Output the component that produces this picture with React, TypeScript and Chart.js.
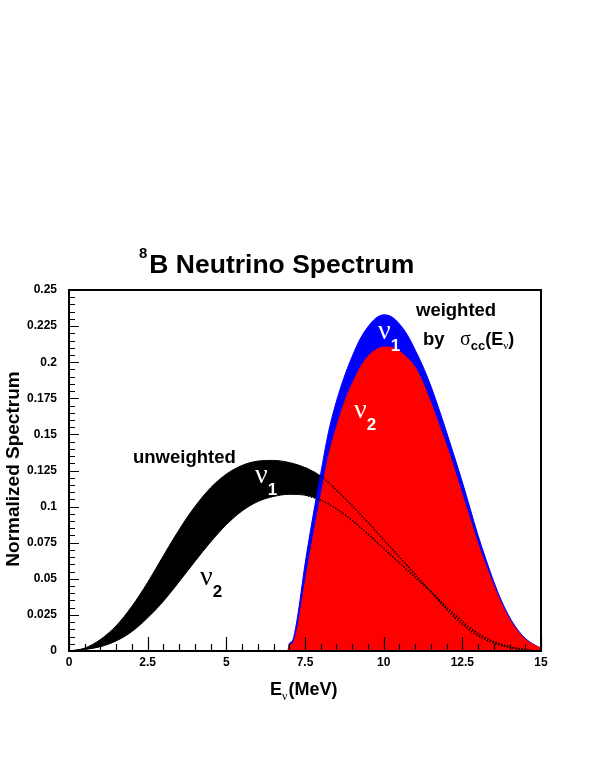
import React, { useEffect, useRef } from "react";
import { Chart, registerables } from "chart.js";

Chart.register(...registerables);

// ---------- data ----------
const energyUnweighted = [0, 0.5, 1, 1.5, 2, 2.5, 3, 3.5, 4, 4.5, 5, 5.5, 6, 6.5, 7, 7.5, 8, 8.5, 9, 9.5, 10, 10.5, 11, 11.5, 12, 12.5, 13, 13.5, 14, 14.5, 14.8];
const nu1Unweighted = [0, 0.002, 0.008, 0.0175, 0.031, 0.0475, 0.066, 0.084, 0.1, 0.113, 0.1225, 0.1285, 0.1315, 0.132, 0.1305, 0.127, 0.121, 0.1115, 0.1005, 0.089, 0.077, 0.065, 0.053, 0.041, 0.029, 0.0185, 0.0105, 0.0055, 0.0025, 0.0008, 0];
const nu2Unweighted = [0, 0.001, 0.003, 0.007, 0.0135, 0.023, 0.0345, 0.048, 0.062, 0.0755, 0.0875, 0.097, 0.1035, 0.107, 0.1085, 0.108, 0.1045, 0.0985, 0.0905, 0.081, 0.071, 0.061, 0.051, 0.041, 0.0305, 0.0205, 0.012, 0.0065, 0.003, 0.001, 0];

const energyWeighted = [6.96, 7.0, 7.1, 7.25, 7.5, 7.75, 8.0, 8.25, 8.5, 8.75, 9.0, 9.25, 9.5, 9.75, 10.0, 10.25, 10.5, 10.75, 11.0, 11.25, 11.5, 11.75, 12.0, 12.25, 12.5, 12.75, 13.0, 13.25, 13.5, 13.75, 14.0, 14.25, 14.5, 14.75, 15.0];
const nu1Weighted = [0, 0.005, 0.007, 0.022, 0.06, 0.093, 0.123, 0.152, 0.173, 0.19, 0.204, 0.216, 0.2245, 0.2305, 0.2328, 0.2315, 0.2265, 0.219, 0.2085, 0.197, 0.1835, 0.168, 0.1515, 0.1345, 0.117, 0.0985, 0.08, 0.0635, 0.048, 0.0345, 0.0235, 0.015, 0.0088, 0.0048, 0.002];
const nu2Weighted = [0, 0.004, 0.005, 0.015, 0.047, 0.078, 0.107, 0.135, 0.155, 0.172, 0.185, 0.196, 0.204, 0.2085, 0.2105, 0.2102, 0.2075, 0.203, 0.1965, 0.1855, 0.172, 0.157, 0.142, 0.1255, 0.108, 0.091, 0.074, 0.059, 0.045, 0.0325, 0.022, 0.014, 0.008, 0.0045, 0.002];

const xTickLabels = ["0", "2.5", "5", "7.5", "10", "12.5", "15"];
const yTickLabels = ["0", "0.025", "0.05", "0.075", "0.1", "0.125", "0.15", "0.175", "0.2", "0.225", "0.25"];

const dottedFrom = 7.5;

// ---------- helpers ----------
const SANS = '"Liberation Sans", Arial, Helvetica, sans-serif';
const SERIF = '"Liberation Serif", "Times New Roman", serif';

const pts = (xs: number[], ys: number[]) => xs.map((x, i) => ({ x, y: ys[i] }));
const ptsFrom = (xs: number[], ys: number[], from: number) =>
  xs.map((x, i) => ({ x, y: ys[i] })).filter((p) => p.x >= from);

type Seg = { t: string; font: string; dy?: number; dx?: number };
function drawRich(ctx: CanvasRenderingContext2D, x: number, y: number, segs: Seg[], color: string) {
  ctx.save();
  ctx.fillStyle = color;
  ctx.textBaseline = "alphabetic";
  ctx.textAlign = "left";
  let cx = x;
  for (const s of segs) {
    ctx.font = s.font;
    cx += s.dx || 0;
    ctx.fillText(s.t, cx, y + (s.dy || 0));
    cx += ctx.measureText(s.t).width;
  }
  ctx.restore();
}

function nuLabel(ctx: CanvasRenderingContext2D, x: number, y: number, digit: string, color: string) {
  drawRich(
    ctx,
    x,
    y,
    [
      { t: "\u03bd", font: `28px ${SERIF}` },
      { t: digit, font: `bold 17px ${SANS}`, dy: 12, dx: 0 },
    ],
    color
  );
}

const decorPlugin = {
  id: "decor",
  afterDraw(chart: any) {
    const ctx: CanvasRenderingContext2D = chart.ctx;
    const a = chart.chartArea;
    const xs = chart.scales.x;
    const ys = chart.scales.y;
    ctx.save();
    ctx.strokeStyle = "#000";
    ctx.lineWidth = 1.2;
    ctx.beginPath();
    for (let k = 0; k <= 30; k++) {
      const px = Math.round(xs.getPixelForValue(k * 0.5)) + 0.5;
      const len = k % 5 === 0 ? 14 : 7;
      ctx.moveTo(px, a.bottom);
      ctx.lineTo(px, a.bottom - len);
    }
    for (let k = 0; k <= 50; k++) {
      const py = Math.round(ys.getPixelForValue(k * 0.005)) + 0.5;
      const len = k % 5 === 0 ? 10 : 6;
      ctx.moveTo(a.left, py);
      ctx.lineTo(a.left + len, py);
    }
    ctx.stroke();
    ctx.lineWidth = 2;
    ctx.strokeRect(a.left, a.top, a.right - a.left, a.bottom - a.top);
    ctx.restore();

    // Title
    drawRich(ctx, 139, 273, [
      { t: "8", font: `bold 15px ${SANS}`, dy: -15 },
      { t: "B Neutrino Spectrum", font: `bold 26.5px ${SANS}`, dx: 2 },
    ], "#000");

    // Axis titles
    drawRich(ctx, 270, 695, [
      { t: "E", font: `bold 18px ${SANS}` },
      { t: "\u03bd", font: `12px ${SERIF}`, dy: 5 },
      { t: "(MeV)", font: `bold 18px ${SANS}`, dx: 1 },
    ], "#000");
    ctx.save();
    ctx.translate(19, 469);
    ctx.rotate(-Math.PI / 2);
    ctx.font = `bold 19px ${SANS}`;
    ctx.fillStyle = "#000";
    ctx.textAlign = "center";
    ctx.textBaseline = "alphabetic";
    ctx.fillText("Normalized Spectrum", 0, 0);
    ctx.restore();

    // Annotations
    drawRich(ctx, 133, 463, [{ t: "unweighted", font: `bold 18.5px ${SANS}` }], "#000");
    drawRich(ctx, 416, 316, [{ t: "weighted", font: `bold 18.5px ${SANS}` }], "#000");
    drawRich(ctx, 423, 345, [{ t: "by", font: `bold 18.5px ${SANS}` }], "#000");
    drawRich(ctx, 460, 345, [
      { t: "\u03c3", font: `20px ${SERIF}` },
      { t: "cc", font: `bold 13px ${SANS}`, dy: 5 },
      { t: "(E", font: `bold 18px ${SANS}` },
      { t: "\u03bd", font: `11px ${SERIF}`, dy: 4 },
      { t: ")", font: `bold 18px ${SANS}` },
    ], "#000");

    nuLabel(ctx, 255, 483, "1", "#fff");
    nuLabel(ctx, 200, 585, "2", "#000");
    nuLabel(ctx, 378, 339, "1", "#fff");
    nuLabel(ctx, 354, 418, "2", "#fff");
  },
};

export default function App() {
  const canvasRef = useRef<HTMLCanvasElement | null>(null);

  useEffect(() => {
    const canvas = canvasRef.current;
    if (!canvas) return;
    const common = { pointRadius: 0, cubicInterpolationMode: "monotone" as const };
    const chart = new Chart(canvas, {
      type: "line",
      data: {
        datasets: [
          {
            ...common,
            data: ptsFrom(energyUnweighted, nu1Unweighted, dottedFrom),
            borderColor: "#000",
            borderWidth: 1.5,
            borderDash: [1.5, 1.5],
            fill: false,
          },
          {
            ...common,
            data: ptsFrom(energyUnweighted, nu2Unweighted, dottedFrom),
            borderColor: "#000",
            borderWidth: 1.5,
            borderDash: [1.5, 1.5],
            fill: false,
          },
          {
            ...common,
            data: pts(energyWeighted, nu2Weighted),
            borderColor: "#ff0000",
            backgroundColor: "#ff0000",
            borderWidth: 1,
            fill: "origin",
          },
          {
            ...common,
            data: pts(energyWeighted, nu1Weighted),
            borderColor: "#0000ff",
            backgroundColor: "#0000ff",
            borderWidth: 1,
            fill: "origin",
          },
          {
            ...common,
            data: pts(energyUnweighted, nu1Unweighted),
            borderColor: "#000",
            backgroundColor: "#000",
            borderWidth: 1,
            fill: "+1",
          },
          {
            ...common,
            data: pts(energyUnweighted, nu2Unweighted),
            borderColor: "#000",
            borderWidth: 1,
            fill: false,
          },
        ],
      },
      options: {
        animation: false,
        responsive: false,
        maintainAspectRatio: false,
        layout: { padding: { left: 0, top: 290, right: 58, bottom: 0 } },
        plugins: { legend: { display: false }, tooltip: { enabled: false }, title: { display: false } },
        scales: {
          x: {
            type: "linear",
            min: 0,
            max: 15,
            afterFit: (s: any) => {
              s.height = 125;
            },
            grid: { display: false, drawTicks: false },
            border: { display: false },
            ticks: {
              stepSize: 2.5,
              autoSkip: false,
              maxRotation: 0,
              padding: 4,
              color: "#000",
              font: { family: SANS, size: 12, weight: "bold" },
              callback: (v: any) => xTickLabels[Math.round(Number(v) / 2.5)] ?? "",
            },
          },
          y: {
            type: "linear",
            min: 0,
            max: 0.25,
            afterFit: (s: any) => {
              s.width = 69;
            },
            grid: { display: false, drawTicks: false },
            border: { display: false },
            ticks: {
              stepSize: 0.025,
              autoSkip: false,
              padding: 12,
              color: "#000",
              font: { family: SANS, size: 12, weight: "bold" },
              callback: (v: any) => yTickLabels[Math.round(Number(v) / 0.025)] ?? "",
            },
          },
        },
      },
      plugins: [decorPlugin],
    } as any);
    return () => chart.destroy();
  }, []);

  return (
    <div style={{ position: "absolute", left: 0, top: 0, width: 599, height: 776, background: "#fff" }}>
      <canvas ref={canvasRef} width={599} height={776} style={{ display: "block", width: 599, height: 776 }} />
    </div>
  );
}
